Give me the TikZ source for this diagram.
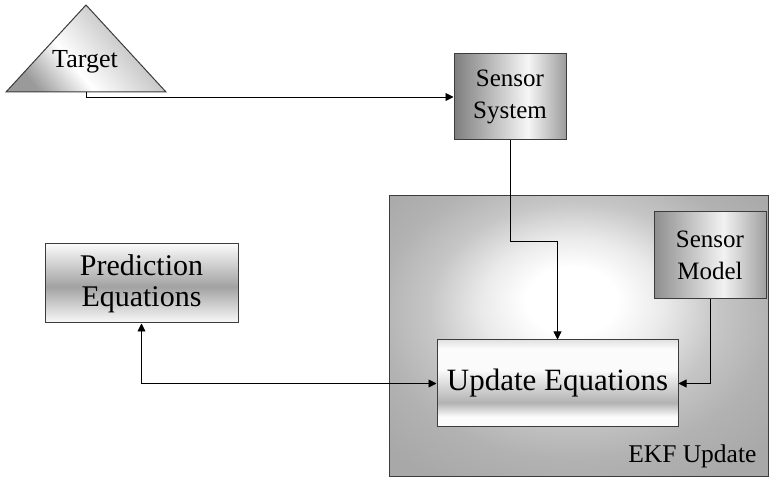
\documentclass[tikz,border=0pt]{standalone}
\usepackage{fontspec}
\IfFontExistsTF{Liberation Serif}{\setmainfont{Liberation Serif}\definecolor{ink}{HTML}{000000}}{\definecolor{ink}{HTML}{FF0000}}
\usetikzlibrary{arrows.meta}

% colours
\definecolor{edge}{HTML}{3C3C3C}
\definecolor{sysL}{HTML}{7E7E7E}
\definecolor{sysM}{HTML}{F6F6F6}
\definecolor{sysR}{HTML}{9C9C9C}
\definecolor{modL}{HTML}{8E8E8E}
\definecolor{modM}{HTML}{F2F2F2}
\definecolor{modR}{HTML}{A0A0A0}
\definecolor{predE}{HTML}{FAFAFA}
\definecolor{predM}{HTML}{A2A2A2}
\definecolor{updT}{HTML}{E2E2E2}
\definecolor{updW}{HTML}{FBFBFB}
\definecolor{updG}{HTML}{B2B2B2}
\definecolor{ekfA}{HTML}{EAEAEA}
\definecolor{ekfB}{HTML}{C6C6C6}
\definecolor{ekfC}{HTML}{B2B2B2}
\definecolor{ekfD}{HTML}{A8A8A8}
\definecolor{tgtL}{HTML}{9A9A9A}
\definecolor{tgtR}{HTML}{ABABAB}

% shadings
\pgfdeclarehorizontalshading{sysshade}{100bp}{color(0bp)=(sysL); color(25bp)=(sysL); color(58bp)=(sysM); color(75bp)=(sysR); color(100bp)=(sysR)}
\pgfdeclarehorizontalshading{modshade}{100bp}{color(0bp)=(modL); color(25bp)=(modL); color(56bp)=(modM); color(75bp)=(modR); color(100bp)=(modR)}
\pgfdeclareverticalshading{predshade}{100bp}{color(0bp)=(predE); color(25bp)=(predE); color(48bp)=(predM); color(75bp)=(predE); color(100bp)=(predE)}
\pgfdeclareverticalshading{updshade}{100bp}{color(0bp)=(updW); color(25bp)=(updW); color(31bp)=(updW); color(39bp)=(updG); color(58bp)=(updW); color(70bp)=(updW); color(75bp)=(updT); color(100bp)=(updT)}
\pgfdeclareradialshading{ekfglow}{\pgfpoint{-1bp}{7bp}}{color(0bp)=(white); color(6bp)=(white); color(12bp)=(ekfA); color(19bp)=(ekfB); color(26bp)=(ekfC); color(34bp)=(ekfD); color(60bp)=(ekfD)}
\pgfdeclarehorizontalshading{tgtshade}{100bp}{color(0bp)=(tgtL); color(25bp)=(tgtL); color(42bp)=(white); color(75bp)=(tgtR); color(100bp)=(tgtR)}

\tikzset{
  box/.style={draw=edge, line width=1pt, inner sep=0pt, align=center, text=ink},
  link/.style={draw=black, line width=0.9pt},
  tip/.style={-{Triangle[length=8pt,width=8pt]}},
  twotip/.style={{Triangle[length=8pt,width=8pt]}-{Triangle[length=8pt,width=8pt]}}
}

\begin{document}
\begin{tikzpicture}[x=1pt, y=-1pt]
\useasboundingbox (0,0) rectangle (769,478);

% EKF update frame
\node[box, shading=ekfglow, minimum width=379pt, minimum height=280pt] (ekf) at (578.5,336) {};
\node[anchor=base east, text=ink, font=\fontsize{25.5}{30}\selectfont] (ekflabel) at (760,462) {EKF Update};

% target
\coordinate (tA) at (86,5);
\coordinate (tL) at (6,92);
\coordinate (tR) at (166,92);
\coordinate (tbase) at (86,92);
\shadedraw[shading=tgtshade, shading angle=39, draw=edge, line width=1pt] (tL) -- (tA) -- (tR) -- cycle;
\node[anchor=base, text=ink, font=\fontsize{26}{30}\selectfont] (tlabel) at (85,68) {Target};

% blocks
\node[box, shading=sysshade, minimum width=112pt, minimum height=86pt,
      font=\fontsize{25}{32}\selectfont] (sensys) at (510,97) {Sensor\\System};
\node[box, shading=modshade, minimum width=112pt, minimum height=87pt,
      font=\fontsize{25}{32}\selectfont] (smod) at (710,255.5) {Sensor\\Model};
\node[box, shading=predshade, minimum width=193pt, minimum height=79pt,
      font=\fontsize{30}{31}\selectfont] (pred) at (141.5,283.5) {Prediction\\Equations};
\node[box, shading=updshade, minimum width=241pt, minimum height=87pt,
      font=\fontsize{31}{36}\selectfont] (upd) at (557.5,383.5) {Update Equations};

% connectors
\coordinate (elbow) at (510,241);
\draw[link, tip] (tbase) |- (sensys.west);
\draw[link, tip] (sensys.south) -- (elbow) -| (upd.north);
\draw[link, tip] (smod.south) |- (upd.east);
\draw[link, twotip] (pred.south) |- (upd.west);
\end{tikzpicture}
\end{document}
